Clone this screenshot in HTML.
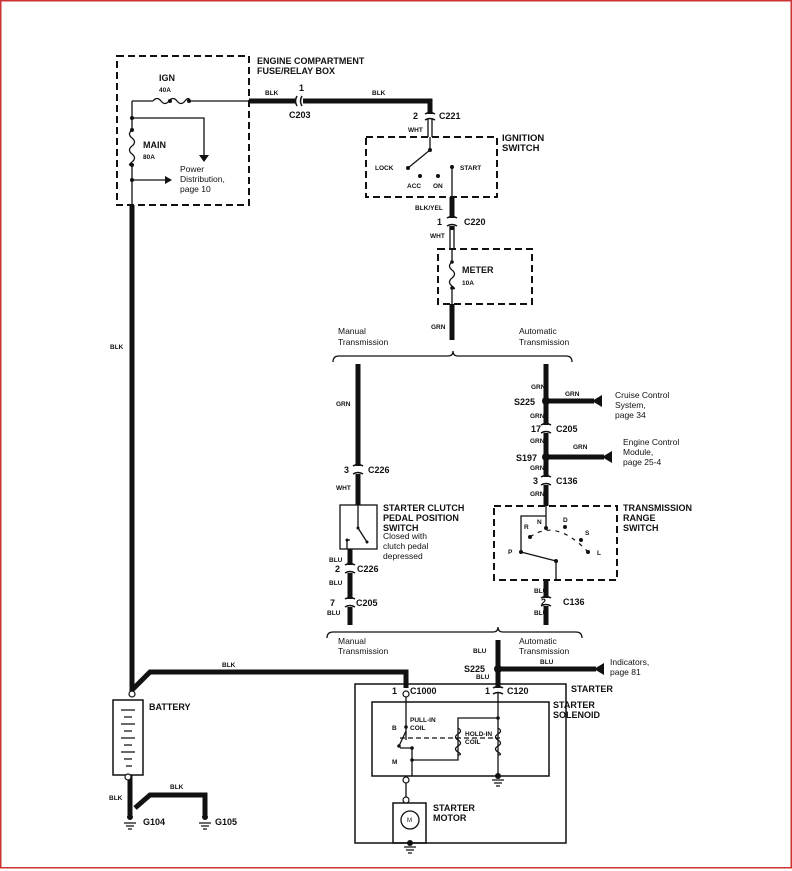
<!DOCTYPE html>
<html><head><meta charset="utf-8"><style>
html,body{margin:0;padding:0;background:#fff}
svg{display:block}
text{font-family:"Liberation Sans",Arial,sans-serif;fill:#111}
.b{font-weight:bold;font-size:9px}
.s{font-weight:bold;font-size:6.5px}
.n{font-size:8.5px}
.t{font-weight:bold;font-size:9.5px}
</style></head><body>
<svg width="792" height="871" viewBox="0 0 792 871" xmlns="http://www.w3.org/2000/svg">
<rect x="0.75" y="0.75" width="790.5" height="867" fill="none" stroke="#c33" stroke-width="1.5"/>
<g fill="none" stroke="#111">
<g stroke-width="2" stroke-dasharray="7,4">
<rect x="117" y="56" width="132" height="149"/>
<rect x="366" y="137" width="131" height="60"/>
<rect x="438" y="249" width="94" height="55"/>
<rect x="494" y="506" width="123" height="74"/>
</g>
<g stroke-width="5">
<path d="M249 101 H296 M303 101 H430 V114"/>
<path d="M132 205 V690 L150 672 H406 V688"/>
<path d="M452 197 V218 M452 226 V230"/>
<path d="M452 304 V340"/>
<path d="M358 364 V466 M358 474 V505"/>
<path d="M350 549 V565 M350 573 V599 M350 607 V625"/>
<path d="M546 364 V425 M546 433 V477 M546 485 V506"/>
<path d="M546 580 V598 M546 606 V625"/>
<path d="M498 640 V688"/>
<path d="M546 401 H594 M546 457 H604 M498 669 H596"/>
<path d="M130 775 V815 M135 808 L150 795 H205 V815"/>
</g>
<g stroke-width="1.3">
<path d="M132 101 H153 M190 101 H249"/>
<path d="M153 101 q4 -5 8 0 t8 0 t8 0 t8 0 t5 0"/>
<path d="M132 101 V130 M132 165 V205"/>
<path d="M132 130 q-5 4 0 8 t0 8 t0 8 t0 8 t0 3"/>
<path d="M132 118 H204 V155"/>
<path d="M132 180 H165"/>
<path d="M428 118 V137 M432 118 V137"/>
<path d="M430 137 V150 L408 168"/>
<path d="M452 167 V197"/>
<path d="M450 226 V249 M454 226 V249"/>
<path d="M452 249 V262 M452 288 V304"/>
<path d="M452 262 q-5 4 0 8 t0 8 t0 8 t0 2"/>
<path d="M358 505 V528 L367 542 M347 540 V549 M347 540 H350"/>
<rect x="340" y="505" width="37" height="44"/>
<path d="M546 506 V528 M521 552 V516 H546 M521 552 L556 561 V580"/>
<path d="M406 693 V740 M399 746 L406 731 M400 748 H412 V776" />
<path d="M406 776 V800 M406 800 V803"/>
<rect x="372" y="702" width="177" height="74" stroke-width="1.5"/>
<rect x="355" y="684" width="211" height="159" stroke-width="1.5"/>
<rect x="393" y="803" width="33" height="40" stroke-width="1.5"/>
<rect x="113" y="700" width="30" height="75" stroke-width="1.5"/>
<path d="M498 693 V776 M498 718 H458 V760 H412"/>
<path d="M458 728 q5 3 0 6 t0 6 t0 6 t0 6 t0 3"/>
<path d="M498 728 q5 3 0 6 t0 6 t0 6 t0 6 t0 3"/>
<path d="M400 738 H500" stroke-dasharray="5,3"/>
<circle cx="410" cy="820" r="9"/>
<path d="M333 362 q0 -6 6 -6 H448 q5 0 5 -5 q0 5 5 5 H566 q6 0 6 6"/>
<path d="M327 638 q0 -6 6 -6 H493 q5 0 5 -5 q0 5 5 5 H576 q6 0 6 6"/>
</g>
<g stroke="#111" stroke-width="1.3">
<path d="M121 710 H135 M124 717 H132 M121 724 H135 M124 731 H132 M121 738 H135 M124 745 H132 M121 752 H135 M124 759 H132 M126 766 H132"/>
</g>
<g stroke="#111" stroke-width="1.2">
<path d="M124 823 H136 M126 826 H134 M128 829 H132"/>
<path d="M199 823 H211 M201 826 H209 M203 829 H207"/>
<path d="M492 780 H504 M494 783 H502 M496 786 H500"/>
<path d="M404 847 H416 M406 850 H414 M408 853 H412"/>
</g>
<g stroke="#111" stroke-width="1.5" fill="none">
<path d="M297 96 q-3 5 0 10 M302 96 q-3 5 0 10"/>
<path d="M425 114 q5 -3 10 0 M425 120 q5 -3 10 0"/>
<path d="M447 218 q5 -3 10 0 M447 226 q5 -3 10 0"/>
<path d="M353 466 q5 -3 10 0 M353 474 q5 -3 10 0"/>
<path d="M345 565 q5 -3 10 0 M345 573 q5 -3 10 0"/>
<path d="M345 599 q5 -3 10 0 M345 607 q5 -3 10 0"/>
<path d="M541 425 q5 -3 10 0 M541 433 q5 -3 10 0"/>
<path d="M541 477 q5 -3 10 0 M541 485 q5 -3 10 0"/>
<path d="M541 598 q5 -3 10 0 M541 606 q5 -3 10 0"/>
<path d="M493 688 q5 -3 10 0 M493 694 q5 -3 10 0"/>
</g>
</g>
<g fill="#111">
<circle cx="132" cy="118" r="2"/><circle cx="132" cy="130" r="2"/><circle cx="132" cy="165" r="2"/><circle cx="132" cy="180" r="2"/>
<circle cx="170" cy="101" r="2"/><circle cx="189" cy="101" r="2"/>
<polygon points="199,155 209,155 204,162"/><polygon points="165,176 165,184 172,180"/>
<circle cx="430" cy="150" r="2"/><circle cx="408" cy="168" r="2"/><circle cx="420" cy="176" r="2"/><circle cx="438" cy="176" r="2"/><circle cx="452" cy="167" r="2"/>
<circle cx="452" cy="262" r="1.8"/><circle cx="452" cy="288" r="1.8"/>
<circle cx="546" cy="401" r="4"/><circle cx="546" cy="457" r="4"/><circle cx="498" cy="669" r="4"/>
<polygon points="592,401 602,395 602,407"/>
<polygon points="602,457 612,451 612,463"/>
<polygon points="594,669 604,663 604,675"/>
<circle cx="546" cy="528" r="2"/><circle cx="521" cy="552" r="2"/><circle cx="556" cy="561" r="2"/><circle cx="565" cy="527" r="2"/><circle cx="581" cy="540" r="2"/><circle cx="588" cy="552" r="2"/><circle cx="530" cy="537" r="2"/>
<circle cx="358" cy="528" r="1.5"/><circle cx="367" cy="542" r="1.5"/><circle cx="347" cy="540" r="1.5"/>
<circle cx="406" cy="727" r="1.8"/><circle cx="399" cy="746" r="1.8"/><circle cx="412" cy="748" r="1.8"/><circle cx="412" cy="760" r="1.8"/><circle cx="498" cy="718" r="1.8"/>
<circle cx="498" cy="776" r="3"/><circle cx="410" cy="843" r="3"/><circle cx="130" cy="817" r="3"/><circle cx="205" cy="817" r="3"/>
</g>
<g fill="#fff" stroke="#111" stroke-width="1.2">
<circle cx="132" cy="694" r="3"/><circle cx="406" cy="694" r="3"/><circle cx="128" cy="777" r="3"/>
<circle cx="406" cy="780" r="3"/><circle cx="406" cy="800" r="3"/>
</g>
<path d="M530 537 Q556 518 588 552" fill="none" stroke="#111" stroke-width="1.2" stroke-dasharray="4,5"/>
<text class="b" x="257" y="64">ENGINE COMPARTMENT</text>
<text class="b" x="257" y="74">FUSE/RELAY BOX</text>
<text class="b" x="159" y="81">IGN</text><text class="s" x="159" y="92">40A</text>
<text class="b" x="143" y="148">MAIN</text><text class="s" x="143" y="159">80A</text>
<text class="n" x="180" y="172">Power</text><text class="n" x="180" y="182">Distribution,</text><text class="n" x="180" y="192">page 10</text>
<text class="s" x="265" y="95">BLK</text><text class="s" x="372" y="95">BLK</text>
<text class="b" x="299" y="91">1</text><text class="b" x="289" y="118">C203</text>
<text class="b" x="413" y="119">2</text><text class="b" x="439" y="119">C221</text><text class="s" x="408" y="132">WHT</text>
<text class="t" x="502" y="141">IGNITION</text><text class="t" x="502" y="151">SWITCH</text>
<text class="s" x="375" y="170">LOCK</text><text class="s" x="460" y="170">START</text><text class="s" x="407" y="188">ACC</text><text class="s" x="433" y="188">ON</text>
<text class="s" x="415" y="210">BLK/YEL</text>
<text class="b" x="437" y="225">1</text><text class="b" x="464" y="225">C220</text><text class="s" x="430" y="238">WHT</text>
<text class="b" x="462" y="273">METER</text><text class="s" x="462" y="285">10A</text>
<text class="s" x="431" y="329">GRN</text>
<text class="n" x="338" y="334">Manual</text><text class="n" x="338" y="345">Transmission</text>
<text class="n" x="519" y="334">Automatic</text><text class="n" x="519" y="345">Transmission</text>
<text class="s" x="110" y="349">BLK</text>
<text class="s" x="336" y="406">GRN</text>
<text class="b" x="344" y="473">3</text><text class="b" x="368" y="473">C226</text><text class="s" x="336" y="490">WHT</text>
<text class="b" x="383" y="511">STARTER CLUTCH</text><text class="b" x="383" y="521">PEDAL POSITION</text><text class="b" x="383" y="531">SWITCH</text>
<text class="n" x="383" y="539">Closed with</text><text class="n" x="383" y="549">clutch pedal</text><text class="n" x="383" y="559">depressed</text>
<text class="s" x="329" y="562">BLU</text><text class="b" x="335" y="572">2</text><text class="b" x="357" y="572">C226</text><text class="s" x="329" y="585">BLU</text>
<text class="b" x="330" y="606">7</text><text class="b" x="356" y="606">C205</text><text class="s" x="327" y="615">BLU</text>
<text class="s" x="531" y="389">GRN</text><text class="b" x="514" y="405">S225</text><text class="s" x="565" y="396">GRN</text>
<text class="n" x="615" y="398">Cruise Control</text><text class="n" x="615" y="408">System,</text><text class="n" x="615" y="418">page 34</text>
<text class="s" x="530" y="418">GRN</text><text class="b" x="531" y="432">17</text><text class="b" x="556" y="432">C205</text><text class="s" x="530" y="443">GRN</text>
<text class="b" x="516" y="461">S197</text><text class="s" x="573" y="449">GRN</text>
<text class="n" x="623" y="445">Engine Control</text><text class="n" x="623" y="455">Module,</text><text class="n" x="623" y="465">page 25-4</text>
<text class="s" x="530" y="470">GRN</text><text class="b" x="533" y="484">3</text><text class="b" x="556" y="484">C136</text><text class="s" x="530" y="496">GRN</text>
<text class="b" x="623" y="511">TRANSMISSION</text><text class="b" x="623" y="521">RANGE</text><text class="b" x="623" y="531">SWITCH</text>
<text class="s" x="524" y="529">R</text><text class="s" x="537" y="524">N</text><text class="s" x="563" y="522">D</text><text class="s" x="585" y="535">S</text><text class="s" x="597" y="555">L</text><text class="s" x="508" y="554">P</text>
<text class="s" x="534" y="593">BLU</text><text class="b" x="541" y="605">2</text><text class="b" x="563" y="605">C136</text><text class="s" x="534" y="615">BLU</text>
<text class="n" x="338" y="644">Manual</text><text class="n" x="338" y="654">Transmission</text>
<text class="n" x="519" y="644">Automatic</text><text class="n" x="519" y="654">Transmission</text>
<text class="s" x="473" y="653">BLU</text>
<text class="b" x="464" y="672">S225</text><text class="s" x="476" y="679">BLU</text><text class="s" x="540" y="664">BLU</text>
<text class="n" x="610" y="665">Indicators,</text><text class="n" x="610" y="675">page 81</text>
<text class="s" x="222" y="667">BLK</text>
<text class="b" x="571" y="692">STARTER</text>
<text class="b" x="392" y="694">1</text><text class="b" x="410" y="694">C1000</text>
<text class="b" x="485" y="694">1</text><text class="b" x="507" y="694">C120</text>
<text class="b" x="553" y="708">STARTER</text><text class="b" x="553" y="718">SOLENOID</text>
<text class="s" x="410" y="722">PULL-IN</text><text class="s" x="410" y="730">COIL</text>
<text class="s" x="465" y="736">HOLD-IN</text><text class="s" x="465" y="744">COIL</text>
<text class="s" x="392" y="730">B</text><text class="s" x="392" y="764">M</text>
<text class="b" x="433" y="811">STARTER</text><text class="b" x="433" y="821">MOTOR</text>
<text style="font-size:6px" x="407" y="822">M</text>
<text class="b" x="149" y="710">BATTERY</text>
<text class="s" x="109" y="800">BLK</text><text class="s" x="170" y="789">BLK</text>
<text class="b" x="143" y="825">G104</text><text class="b" x="215" y="825">G105</text>
</svg>
</body></html>
